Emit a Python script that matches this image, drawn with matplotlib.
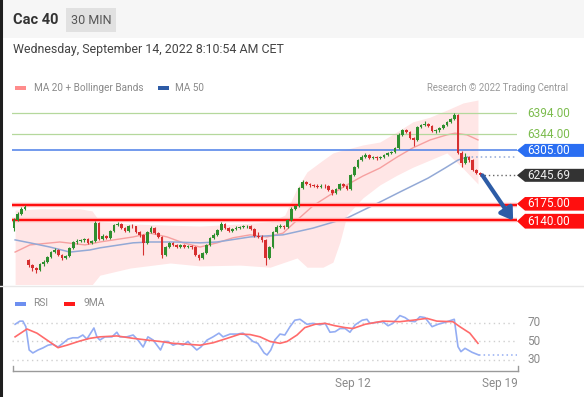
"""
Cac 40 30 MIN chart (Trading Central style) with RSI panel.
Produces: out.png
"""
import matplotlib
matplotlib.use("Agg")
import matplotlib.pyplot as plt
import matplotlib.transforms as mtransforms
from matplotlib.patches import Polygon, Rectangle
from matplotlib.lines import Line2D
import numpy as np

plt.rcParams["font.family"] = ["Roboto", "DejaVu Sans"]

# ── Data ──────────────────────────────────────────────────────────────────────
first_open = 6120
gap_open = {4: 6044}          # Monday gap down
closes = [
    6139, 6154, 6166, 6170, 6032, 6025, 6020, 6035, 6039, 6051,
    6063, 6068, 6056, 6049, 6054, 6073, 6087, 6089, 6092, 6093,
    6085, 6089, 6132, 6094, 6101, 6096, 6113, 6127, 6130, 6120,
    6113, 6125, 6124, 6111, 6104, 6085, 6111, 6120, 6108, 6099,
    6056, 6075, 6085, 6080, 6075, 6080, 6075, 6078, 6075, 6056,
    6049, 6061, 6080, 6096, 6104, 6116, 6130, 6120, 6113, 6118,
    6120, 6122, 6124, 6125, 6118, 6101, 6100, 6092, 6049, 6075,
    6111, 6123, 6125, 6123, 6139, 6166, 6173, 6215, 6230, 6225,
    6223, 6221, 6219, 6221, 6220, 6211, 6204, 6213, 6225, 6220,
    6213, 6246, 6265, 6282, 6289, 6294, 6287, 6289, 6287, 6289,
    6294, 6299, 6301, 6311, 6342, 6354, 6349, 6334, 6330, 6361,
    6365, 6368, 6363, 6351, 6353, 6358, 6365, 6373, 6380, 6389,
    6299, 6275, 6289, 6282, 6258, 6251, 6245.69,
]
highs = [
    6145, 6158, 6170, 6174, 6047, 6034, 6028, 6038, 6043, 6054,
    6066, 6072, 6071, 6058, 6057, 6076, 6090, 6093, 6095, 6097,
    6096, 6092, 6136, 6134, 6105, 6104, 6116, 6131, 6134, 6132,
    6122, 6128, 6129, 6126, 6113, 6106, 6114, 6124, 6122, 6110,
    6101, 6078, 6088, 6088, 6083, 6083, 6082, 6081, 6080, 6077,
    6058, 6064, 6083, 6099, 6108, 6119, 6135, 6132, 6122, 6121,
    6124, 6126, 6127, 6128, 6127, 6120, 6110, 6103, 6094, 6078,
    6114, 6127, 6129, 6128, 6142, 6170, 6176, 6218, 6234, 6232,
    6227, 6226, 6225, 6224, 6225, 6222, 6213, 6216, 6228, 6227,
    6222, 6249, 6268, 6285, 6293, 6298, 6296, 6292, 6291, 6292,
    6297, 6302, 6304, 6314, 6346, 6357, 6356, 6351, 6336, 6364,
    6369, 6375, 6371, 6365, 6356, 6361, 6368, 6376, 6383, 6394,
    6391, 6303, 6300, 6292, 6284, 6260, 6254,
]
lows = [
    6113, 6136, 6151, 6163, 6028, 6018, 6014, 6017, 6031, 6036,
    6048, 6060, 6053, 6045, 6046, 6051, 6070, 6083, 6086, 6088,
    6082, 6082, 6086, 6091, 6091, 6093, 6094, 6110, 6124, 6117,
    6110, 6111, 6120, 6108, 6100, 6056, 6082, 6108, 6105, 6096,
    6049, 6053, 6072, 6077, 6072, 6072, 6072, 6072, 6071, 6053,
    6045, 6046, 6058, 6078, 6094, 6102, 6114, 6117, 6110, 6111,
    6116, 6118, 6120, 6120, 6115, 6098, 6097, 6088, 6032, 6046,
    6072, 6108, 6120, 6119, 6120, 6137, 6163, 6170, 6212, 6222,
    6219, 6218, 6216, 6216, 6216, 6208, 6198, 6202, 6211, 6217,
    6210, 6211, 6244, 6263, 6280, 6286, 6284, 6284, 6283, 6284,
    6286, 6291, 6296, 6298, 6308, 6339, 6346, 6331, 6315, 6327,
    6358, 6362, 6360, 6348, 6347, 6348, 6355, 6362, 6370, 6377,
    6296, 6266, 6272, 6278, 6255, 6248, 6243,
]

# MA 20 + Bollinger bands, MA 50 (bar position, price)
ma20_x = [0.3, 4.3, 12.4, 19.2, 23.2, 32.2, 36.8, 41.4, 45.7, 50.3, 54.9, 59.2,
          63.8, 68.4, 72.7, 76.5, 80.8, 85.4, 90.0, 94.3, 98.9, 103.5, 107.8,
          112.5, 117.0, 119.2, 122.4, 125.4]
ma20_y = [6063, 6080, 6087, 6080, 6087, 6099, 6108, 6099, 6085, 6075, 6085, 6097,
          6104, 6099, 6108, 6139, 6173, 6199, 6223, 6244, 6263, 6289, 6311,
          6330, 6342, 6346, 6342, 6330]
bb_x = [0.3, 7.0, 17.8, 21.1, 23.2, 31.4, 42.2, 50.3, 61.1, 69.2, 73.2, 76.5,
        79.2, 83.5, 86.2, 88.1, 90.0, 94.3, 98.9, 103.5, 107.8, 112.4, 117.0,
        121.4, 125.4]
bb_upper = [6163, 6166, 6166, 6161, 6135, 6130, 6127, 6125, 6130, 6135, 6151, 6215,
            6254, 6282, 6299, 6304, 6308, 6318, 6325, 6349, 6373, 6384, 6401,
            6418, 6425]
bb_lower = [5975, 5975, 5978, 5985, 6008, 6025, 6037, 6030, 6032, 6027, 6039, 6049,
            6027, 6027, 6039, 6087, 6151, 6192, 6223, 6246, 6265, 6282, 6299,
            6262, 6225]
ma50_x = [0.3, 4.3, 9.7, 15.1, 20.5, 23.2, 32.2, 36.8, 43.0, 50.3, 54.9, 63.8,
          72.7, 80.8, 90.0, 98.9, 104.3, 111.9, 116.5, 120.0, 122.4]
ma50_y = [6092, 6085, 6075, 6063, 6068, 6073, 6085, 6087, 6087, 6085, 6087, 6099,
          6104, 6120, 6144, 6182, 6206, 6239, 6263, 6282, 6289]

# Key levels
res_levels = [6394.00, 6344.00]
pivot = 6305.00
last_price = 6245.69
sup_levels = [6175.00, 6140.00]

# RSI and its 9 MA (bar position, value)
rsi_x = [0.3, 1.6, 2.4, 3.2, 4.1, 5.1, 6.5, 7.8, 9.2, 10.5, 11.9, 13.2, 14.6,
         15.9, 17.3, 18.6, 19.7, 21.6, 22.4, 23.2, 24.6, 26.5, 27.8, 28.6, 30.5,
         32.2, 33.5, 34.9, 36.2, 37.6, 39.6, 40.6, 41.6, 43.0, 44.3, 45.7, 47.0,
         49.4, 50.5, 52.2, 53.8, 55.4, 56.5, 58.4, 60.3, 61.9, 63.2, 64.6, 65.9,
         67.6, 68.4, 69.4, 70.5, 71.9, 73.2, 74.6, 75.9, 77.3, 79.2, 80.8, 82.7,
         84.1, 85.4, 86.8, 88.1, 89.5, 90.8, 92.2, 94.1, 95.4, 96.2, 98.1, 99.7,
         101.1, 102.4, 104.3, 105.7, 107.0, 108.4, 109.7, 111.1, 113.0, 114.6,
         116.5, 119.0, 120.0, 120.8, 121.9, 123.8, 125.6]
rsi_y = [68.6, 72, 72, 66, 40.8, 37.6, 40.8, 43, 46, 47, 44, 48, 52.6,
         54, 54, 57, 52.6, 64.6, 55, 51.6, 55, 55, 60, 55, 55,
         57, 51.6, 44, 55, 51.6, 40.8, 50, 50, 46, 48, 46, 50,
         40.8, 44, 51.6, 55, 59, 55, 58, 58, 59, 55, 50, 48,
         37.6, 35.4, 40.8, 51.6, 58, 57, 66, 73, 74, 68.6, 69.6, 68,
         69.6, 60, 60.6, 64, 64, 60, 68, 73, 74, 69.6, 70.7, 71.4,
         67, 69.6, 78, 75.8, 72, 71.4, 76.8, 75.8, 66, 68.6,
         70.7, 74, 44.4, 39, 42.6, 38.3, 35.4]
ma9_x = [0.3, 3.5, 6.2, 8.9, 11.9, 14.3, 17.8, 20.5, 23.2, 27.8, 32.2, 35.9,
         39.5, 43.0, 46.8, 50.3, 53.8, 57.6, 61.1, 63.8, 66.5, 69.2, 71.9, 73.8,
         76.5, 78.6, 81.4, 84.1, 86.8, 89.5, 91.6, 94.9, 99.7, 104.3, 107.8,
         111.6, 114.3, 118.6, 120.5, 123.2, 125.4]
ma9_y = [55, 63.5, 59, 51.6, 43.3, 46, 50.5, 53.4, 55, 56, 53.4, 51.6,
         50, 48, 47, 46, 48.6, 53.4, 58, 57.5, 55, 50, 48, 50,
         57, 65, 68.6, 69.6, 67, 65, 64, 68.6, 72, 71.4, 73,
         75, 72, 71.4, 66, 59, 48]
rsi_levels = [70, 50, 30]

time_ticks = [91.6, 131.4]
time_labels = ["Sep 12", "Sep 19"]

# ── Colours ───────────────────────────────────────────────────────────────────
C_UP = "#2f8f2f"
C_DN = "#d62f2f"
C_BAND = "#ffe6e6"
C_MA20 = "#f6a0a0"
C_MA50 = "#93a9d6"
C_GREEN_LVL = "#b5d89c"
C_GREEN_TXT = "#7cbc4e"
C_BLUE_LVL = "#4c7fe8"
C_BLUE_BOX = "#2a6ef2"
C_RED = "#ff0f0f"
C_DARK = "#333333"
C_ARROW = "#2d5ca6"
C_TXT = "#444444"
C_MUTED = "#8a8a8a"

# ── Figure layout (pixel helpers) ─────────────────────────────────────────────
W, H = 584, 397
fig = plt.figure(figsize=(W / 100, H / 100), dpi=100)
fig.patch.set_facecolor("white")


def fx(x):
    return x / W


def fy(y):
    return 1 - y / H


# header strip
fig.add_artist(Rectangle((0, fy(38)), 1, 38 / H, transform=fig.transFigure,
                         facecolor="#f6f6f6", edgecolor="none", zorder=0))
fig.add_artist(Rectangle((fx(66), fy(32)), 50 / W, 24 / H, transform=fig.transFigure,
                         facecolor="#e1e1e1", edgecolor="none", zorder=1))
fig.add_artist(Line2D([fx(1), fx(1)], [0, 1], color="#1e1e1e", lw=2.2,
                      transform=fig.transFigure))
fig.add_artist(Line2D([0, 1], [fy(286), fy(286)], color="#e8e8e8", lw=1,
                      transform=fig.transFigure))

fig.text(fx(13), fy(20), "Cac 40", fontsize=10.5, fontweight="bold", color="#333",
         va="center")
fig.text(fx(91), fy(20), "30 MIN", fontsize=9, color="#555", va="center", ha="center")
fig.text(fx(13), fy(50), "Wednesday, September 14, 2022 8:10:54 AM CET",
         fontsize=8.9, color=C_TXT, va="center")

# legend row
fig.add_artist(Rectangle((fx(15), fy(90)), 11 / W, 4 / H, transform=fig.transFigure,
                         facecolor="#ff8c8c", edgecolor="none"))
fig.text(fx(34), fy(88), "MA 20 + Bollinger Bands", fontsize=7.2, color=C_MUTED,
         va="center")
fig.add_artist(Rectangle((fx(158), fy(90)), 11 / W, 4 / H, transform=fig.transFigure,
                         facecolor="#2d5ba6", edgecolor="none"))
fig.text(fx(175), fy(88), "MA 50", fontsize=7.2, color=C_MUTED, va="center")
fig.text(fx(568), fy(88), "Research © 2022 Trading Central", fontsize=6.9,
         color="#9a9a9a", va="center", ha="right")

# ── Main price panel ──────────────────────────────────────────────────────────
ax = fig.add_axes([fx(12), fy(284), (517 - 12) / W, (284 - 96) / H])
ax.set_xlim(-0.54, 135.95)
ax.set_ylim(5987, 6434.5)
ax.axis("off")

n = len(closes)
idx = np.arange(n)
opens = [first_open] + closes[:-1]
for k, v in gap_open.items():
    opens[k] = v
o = np.array(opens, dtype=float)
c = np.array(closes, dtype=float)
up = c >= o
colors = np.where(up, C_UP, C_DN)

ax.fill_between(bb_x, bb_lower, bb_upper, color=C_BAND, lw=0, zorder=1)
ax.plot(ma20_x, ma20_y, color=C_MA20, lw=1.0, zorder=2)
ax.plot(ma50_x, ma50_y, color=C_MA50, lw=1.1, zorder=2)
ax.plot([ma50_x[-1], 135.95], [ma50_y[-1], ma50_y[-1]], color=C_MA50, lw=1.1,
        linestyle=(0, (1, 2)), zorder=2)

for lv in res_levels:
    ax.axhline(lv, color=C_GREEN_LVL, lw=0.9, zorder=2)
ax.axhline(pivot, color=C_BLUE_LVL, lw=1.1, zorder=2)
for lv in sup_levels:
    ax.axhline(lv, color="#ffb3b3", lw=3.2, zorder=2)
    ax.axhline(lv, color=C_RED, lw=1.5, zorder=2)
ax.plot([n - 1, 135.95], [last_price, last_price], color="#666", lw=1,
        linestyle=(0, (1, 2)), zorder=2)

ax.vlines(idx, lows, highs, colors=colors, lw=0.8, zorder=4)
ax.bar(idx, np.abs(c - o), bottom=np.minimum(o, c), width=0.72, color=colors,
       zorder=5, linewidth=0)

ax.annotate("", xy=(134.9, sup_levels[1] - 2), xytext=(126.6, last_price),
            arrowprops=dict(arrowstyle="-|>,head_length=0.7,head_width=0.45",
                            color=C_ARROW, lw=3.0, shrinkA=0, shrinkB=0),
            zorder=6)

# price tags on the right
trans = mtransforms.blended_transform_factory(fig.transFigure, ax.transData)
ppx = (6434.5 - 5987) / 188.0


def tag(price, face, text_color, dy=0.0, half=6.5):
    yc = price + dy * ppx
    h = half * ppx
    if face is not None:
        pts = [(fx(517), yc), (fx(525), yc + h), (fx(584), yc + h),
               (fx(584), yc - h), (fx(525), yc - h)]
        ax.add_patch(Polygon(pts, closed=True, transform=trans, facecolor=face,
                             edgecolor="none", clip_on=False, zorder=7))
    ax.text(fx(527), yc, f"{price:.2f}", transform=trans, color=text_color,
            fontsize=8.5, va="center", ha="left", clip_on=False, zorder=8)


for lv in res_levels:
    tag(lv, None, C_GREEN_TXT)
tag(pivot, C_BLUE_BOX, "white")
tag(last_price, C_DARK, "#eeeeee")
tag(sup_levels[0], C_RED, "white", dy=1.2, half=6.8)
tag(sup_levels[1], C_RED, "white", dy=-1.5, half=7.4)

# ── RSI panel ─────────────────────────────────────────────────────────────────
fig.add_artist(Rectangle((fx(15), fy(305.5)), 11 / W, 4 / H, transform=fig.transFigure,
                         facecolor="#6d8ff0", edgecolor="none"))
fig.text(fx(33), fy(303.5), "RSI", fontsize=7.4, color=C_MUTED, va="center")
fig.text(fx(83), fy(303.5), "9MA", fontsize=7.4, color=C_MUTED, va="center")
fig.add_artist(Rectangle((fx(64), fy(305.5)), 11 / W, 4 / H, transform=fig.transFigure,
                         facecolor="#ff1a1a", edgecolor="none"))

ax2 = fig.add_axes([fx(12), fy(372), (517 - 12) / W, (372 - 308) / H])
ax2.set_xlim(-0.54, 135.95)
ax2.set_ylim(17.0, 86.2)
ax2.axis("off")
for lv in rsi_levels:
    ax2.axhline(lv, color="#cfcfcf", lw=1, linestyle=(0, (1, 2.5)), zorder=1)
    ax2.text(1.02, lv, str(lv), transform=ax2.get_yaxis_transform(), fontsize=8.5,
             color=C_MUTED, va="center", ha="left", clip_on=False)
ax2.plot(rsi_x, rsi_y, color="#94adf3", lw=1.2, zorder=2)
ax2.plot([rsi_x[-1], 135.95], [rsi_y[-1], rsi_y[-1]], color="#94adf3", lw=1.1,
         linestyle=(0, (1, 2)), zorder=2)
ax2.plot(ma9_x, ma9_y, color="#ff6b6b", lw=1.2, zorder=3)

# time axis
fig.add_artist(Line2D([fx(13), fx(518)], [fy(371), fy(371)], color="#9a9a9a", lw=1,
                      transform=fig.transFigure))
for xe in (13, 518):
    fig.add_artist(Line2D([fx(xe), fx(xe)], [fy(371), fy(366)], color="#9a9a9a",
                          lw=1, transform=fig.transFigure))
tx = mtransforms.blended_transform_factory(ax2.transData, fig.transFigure)
for t, lab in zip(time_ticks, time_labels):
    ax2.text(t, fy(384), lab, transform=tx, fontsize=8.5, color=C_MUTED,
             ha="center", va="center", clip_on=False)

fig.savefig("out.png", dpi=100, facecolor="white")
print("Saved: out.png")
